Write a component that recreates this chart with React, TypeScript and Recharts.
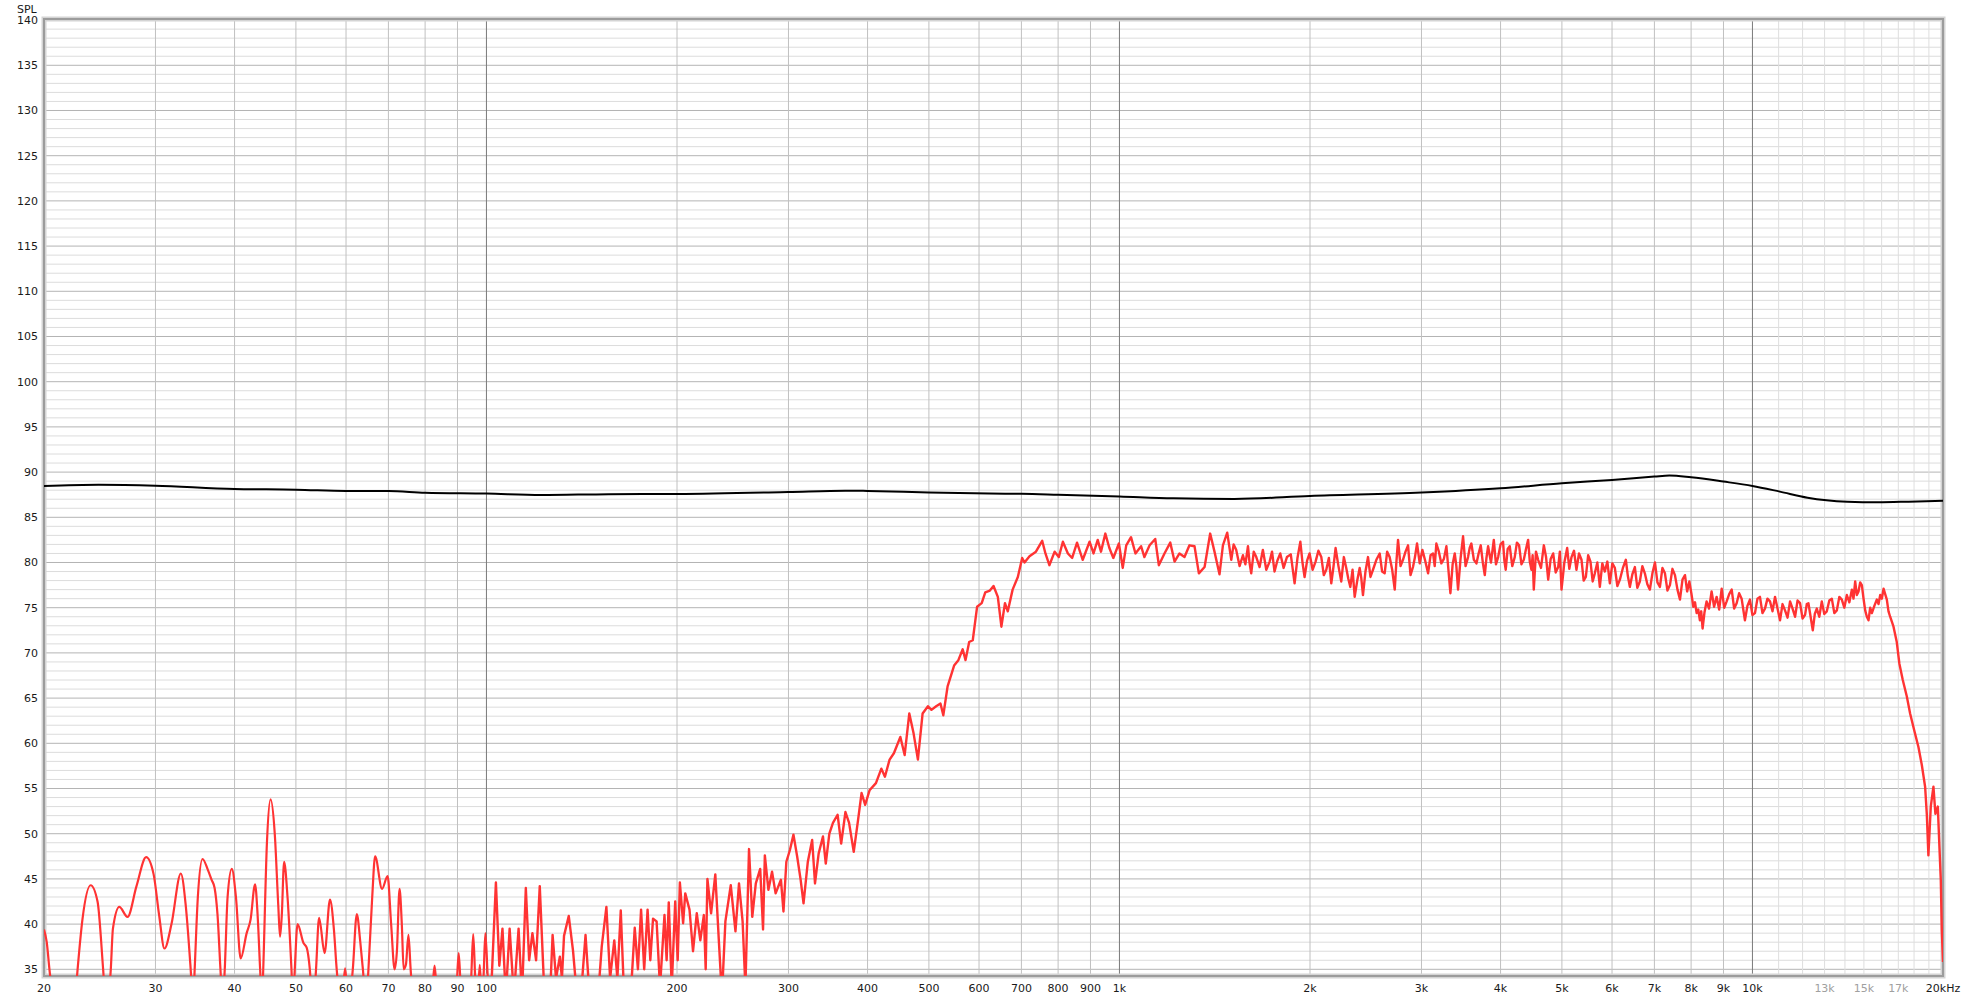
import { CartesianGrid, Line, LineChart, ReferenceArea, XAxis, YAxis } from 'recharts';

// frequency response, SPL in dB vs Hz (log)
const RED_BASS: [number, number][] = [
  [20, 39.4], [20.2, 38.0], [20.4, 35.0], [20.8, 30.0], [21.6, 25.0], [22.3, 30.0], [22.6, 35.0], [23.0, 40.5],
  [23.7, 44.3], [24.3, 42.5], [24.8, 35.0], [25.1, 30.0], [25.5, 35.0], [25.7, 39.5], [26.3, 41.9], [27.1, 40.8],
  [28.0, 44.2], [29.0, 47.4], [29.8, 45.5], [30.4, 41.0], [31.0, 37.3], [31.8, 40.0], [32.9, 45.6], [33.5, 42.0],
  [34.1, 35.0], [34.4, 31.0], [34.6, 35.0], [35.0, 43.0], [35.6, 47.2], [36.3, 46.0], [36.8, 44.9], [37.2, 44.0],
  [37.6, 41.0], [38.0, 35.0], [38.3, 31.0], [38.6, 35.0], [39.0, 43.0], [39.6, 46.1], [40.2, 43.0], [40.9, 36.2],
  [41.8, 39.0], [42.4, 40.5], [43.1, 44.4], [43.5, 41.0], [43.9, 35.0], [44.2, 31.0], [44.4, 35.0], [45.0, 49.0],
  [45.6, 53.8], [46.3, 50.0], [46.9, 42.0], [47.2, 38.6], [47.5, 41.0], [47.9, 46.9], [48.5, 43.0], [49.2, 35.0],
  [49.5, 31.0], [49.8, 35.0], [50.3, 40.0], [51.4, 37.9], [52.0, 37.4], [52.6, 35.0], [53.2, 30.0], [53.8, 35.0],
  [54.4, 40.7], [55.5, 36.8], [56.6, 42.7], [57.4, 39.5], [58.0, 35.0], [59.0, 31.0], [59.8, 35.1], [60.6, 31.0],
  [61.5, 35.0], [62.4, 41.1], [63.2, 38.0], [63.8, 35.0], [64.5, 31.0], [65.1, 35.0], [66.0, 43.0], [66.7, 47.5],
  [68.4, 43.9], [69.8, 45.3], [70.7, 40.0], [71.6, 35.0], [72.2, 37.0], [72.9, 43.9], [73.5, 40.0], [74.0, 35.0],
  [74.6, 35.5], [75.3, 38.8], [75.9, 35.0], [77.0, 30.0], [80.0, 28.0], [82.2, 33.0], [82.8, 35.4], [83.4, 33.0],
  [87.0, 28.0], [89.7, 33.0], [90.4, 36.8], [91.1, 33.0], [93.5, 30.0], [94.6, 34.0], [95.3, 38.9], [96.0, 34.0],
  [96.7, 31.0], [97.6, 35.5], [98.4, 31.0], [99.0, 34.5], [99.6, 39.0], [100.5, 34.0], [101.5, 31.0],
];

const RED_RISE: [number, number][] = [
  [101.5, 31.0], [103.5, 44.6], [104.8, 35.4], [106.0, 39.5], [107.3, 32.0], [108.8, 39.5], [110.5, 32.0],
  [112.4, 39.5], [113.8, 32.0], [115.4, 44.0], [116.8, 36.0], [118.2, 39.0], [119.8, 36.0], [121.4, 44.2],
  [123.5, 32.0], [125.5, 29.0], [127.2, 38.8], [128.8, 34.0], [130.6, 36.4], [131.6, 34.0], [132.6, 38.7],
  [134.9, 40.9], [137.0, 37.1], [139.0, 32.0], [141.0, 32.0], [143.4, 38.8], [145.5, 32.0], [149.0, 29.0],
  [152.1, 37.5], [154.7, 41.9], [156.8, 34.0], [159.2, 38.2], [161.0, 34.0], [163.0, 41.5], [165.0, 32.0],
  [168.0, 29.0], [171.5, 39.6], [173.5, 35.0], [175.5, 41.6], [177.5, 35.0], [179.7, 41.6], [181.5, 36.0],
  [183.3, 40.6], [185.7, 40.3], [188.0, 33.0], [191.1, 41.0], [192.6, 36.0], [194.1, 42.4], [196.2, 33.0],
  [198.7, 42.5], [200.5, 36.0], [202.1, 44.6], [204.5, 40.1], [206.1, 43.4], [209.3, 41.6], [212.0, 37.0],
  [214.9, 41.2], [217.7, 38.2], [220.5, 41.0], [222.0, 35.0], [223.4, 45.0], [226.4, 41.2], [229.9, 45.5],
  [233.0, 37.9], [235.5, 32.0], [238.5, 40.3], [243.2, 44.3], [247.4, 39.2], [250.6, 44.5], [253.9, 40.3],
  [256.5, 33.0], [259.9, 48.3], [263.0, 40.8], [266.4, 44.5], [270.7, 46.1], [273.5, 39.4], [275.3, 47.6],
  [278.9, 43.8], [282.6, 45.8], [286.3, 43.4], [291.9, 44.9], [294.6, 41.4], [297.7, 46.9], [301.6, 48.2],
  [305.5, 49.9], [309.6, 47.5], [313.6, 44.9], [316.9, 42.3], [321.9, 46.9], [327.0, 49.3], [330.4, 44.5],
  [334.8, 47.8], [340.1, 49.7], [343.6, 46.7], [348.1, 50.0], [352.7, 51.2], [358.7, 52.1], [363.4, 48.9],
  [369.1, 52.4], [374.0, 51.2], [380.4, 48.0], [386.4, 51.5], [391.4, 54.5], [396.6, 53.2], [402.9, 54.8],
  [412.4, 55.6], [420.6, 57.2], [426.1, 56.3], [433.4, 58.2], [440.2, 58.9], [450.7, 60.7], [457.8, 58.7],
  [465.6, 63.3], [472.9, 61.1], [480.4, 58.2], [488.7, 63.3], [498.3, 64.1], [504.7, 63.7], [513.4, 64.1],
  [521.5, 64.4], [526.9, 63.1], [535.2, 66.3], [548.0, 68.6], [556.6, 69.2], [565.4, 70.4], [571.3, 69.2],
  [578.9, 71.2], [586.5, 71.4], [595.8, 75.1], [605.9, 75.5], [613.8, 76.7], [624.2, 76.9], [632.5, 77.4],
  [642.5, 76.2], [650.9, 72.9], [659.4, 75.5], [666.2, 74.6], [678, 77.0], [691, 78.4],
];

const RED_MID: [number, number][] = [
  [702, 80.5], [708, 80.0], [721, 80.7], [738, 81.2], [755, 82.4], [764, 81.0], [775, 79.7], [790, 81.2],
  [802, 80.6], [814, 82.3], [829, 81.0], [842, 80.5], [857, 82.2], [875, 80.3], [897, 82.3], [910, 81.0],
  [924, 82.5], [935, 81.2], [950, 83.2], [964, 81.6], [978, 80.5], [998, 82.1], [1012, 79.4], [1025, 81.9],
  [1043, 82.8], [1060, 81.0], [1082, 81.8], [1095, 80.6], [1116, 81.9], [1139, 82.6], [1154, 79.7], [1178, 81.0],
  [1203, 82.2], [1222, 80.1], [1244, 81.0], [1267, 80.6], [1290, 81.9], [1314, 81.8], [1335, 78.8], [1363, 79.5],
  [1391, 83.2], [1413, 81.2], [1439, 78.7], [1457, 81.9], [1480, 83.3], [1502, 80.3], [1515, 82.0], [1529, 81.4],
  [1548, 79.6], [1567, 80.8], [1581, 79.8], [1596, 81.8], [1605, 80.0], [1615, 78.8], [1630, 81.2], [1645, 80.6],
  [1665, 79.5], [1685, 81.4], [1706, 79.2], [1727, 80.1], [1742, 81.2], [1758, 79.0], [1776, 80.2], [1795, 81.0],
  [1817, 79.4], [1839, 80.6], [1865, 80.9], [1891, 77.7], [1911, 80.5], [1931, 82.3], [1946, 80.0], [1961, 78.4],
  [1979, 80.2], [1997, 81.0], [2019, 79.2], [2041, 80.1], [2062, 81.3], [2084, 80.6], [2103, 78.6], [2122, 79.2],
  [2142, 80.5], [2161, 77.7], [2178, 79.5], [2195, 81.6], [2218, 79.6], [2241, 77.9], [2262, 80.6], [2282, 79.4],
  [2299, 78.2], [2316, 77.3], [2335, 79.2], [2353, 76.2], [2375, 78.0], [2396, 79.4], [2410, 78.3], [2425, 76.4],
  [2447, 79.0], [2470, 80.6], [2492, 78.4], [2515, 79.2], [2546, 80.3], [2577, 81.0], [2600, 79.0], [2624, 78.8],
  [2648, 81.2], [2672, 80.6], [2697, 79.2], [2722, 77.0], [2738, 80.0], [2755, 82.5], [2780, 79.6], [2805, 80.3],
  [2831, 81.2], [2857, 81.9], [2883, 78.6], [2909, 79.5], [2930, 80.6], [2952, 82.1], [2981, 79.9], [3010, 81.4],
  [3041, 80.2], [3073, 78.8], [3101, 80.8], [3129, 81.0], [3148, 79.6], [3167, 82.1], [3196, 81.2], [3225, 79.9],
  [3255, 80.4], [3285, 81.8], [3309, 79.2], [3333, 76.6], [3360, 79.8], [3386, 81.0], [3406, 79.6], [3427, 77.0],
  [3458, 80.4], [3490, 82.9], [3522, 79.6], [3554, 80.6], [3575, 81.6], [3597, 82.1], [3630, 80.3], [3664, 79.9],
  [3693, 81.0], [3722, 81.9], [3750, 80.0], [3777, 78.6], [3800, 80.5], [3823, 81.8], [3863, 80.0],
];

const RED_TOP: [number, number][] = [
  [3903, 82.5], [3934, 79.8], [3965, 80.6], [4000, 82.0], [4036, 82.3], [4056, 80.2], [4076, 79.2], [4105, 81.5],
  [4136, 81.8], [4174, 79.6], [4212, 80.6], [4245, 82.2], [4279, 81.9], [4316, 79.8], [4353, 80.3], [4388, 81.5],
  [4422, 82.5], [4449, 80.1], [4476, 79.2], [4495, 80.8], [4514, 77.0], [4550, 81.2], [4586, 80.3], [4634, 79.4],
  [4682, 81.9], [4720, 80.6], [4757, 78.1], [4800, 80.4], [4844, 81.0], [4888, 78.9], [4933, 79.5], [4963, 81.2],
  [4993, 77.0], [5045, 80.0], [5097, 81.6], [5137, 79.3], [5178, 80.6], [5225, 81.3], [5272, 79.2], [5321, 81.0],
  [5370, 80.3], [5412, 78.0], [5455, 78.4], [5501, 80.8], [5548, 80.1], [5592, 77.9], [5636, 78.8], [5688, 80.0],
  [5740, 77.3], [5792, 79.9], [5845, 79.0], [5899, 80.1], [5953, 77.7], [6007, 79.9], [6062, 79.4], [6118, 77.4],
  [6174, 78.1], [6242, 79.4], [6310, 80.3], [6356, 78.5], [6402, 77.3], [6461, 78.7], [6520, 79.5], [6579, 77.2],
  [6639, 77.9], [6700, 79.6], [6761, 78.8], [6823, 77.6], [6886, 77.0], [6950, 78.8], [7014, 80.0], [7078, 77.8],
  [7142, 77.3], [7208, 79.4], [7274, 78.8], [7340, 76.9], [7407, 77.5], [7475, 79.3], [7544, 78.6], [7613, 77.0],
  [7682, 75.9], [7753, 78.1], [7824, 78.6], [7886, 76.8], [7949, 77.9], [8007, 76.6], [8065, 75.1], [8114, 75.6],
  [8163, 74.4], [8211, 74.8], [8260, 73.6], [8300, 74.6], [8341, 72.7], [8400, 74.5], [8463, 75.7], [8540, 74.9],
  [8619, 76.8], [8698, 75.1], [8778, 76.2], [8860, 74.8], [8941, 77.1], [9023, 75.0], [9105, 75.7], [9189, 76.5],
  [9273, 77.0], [9357, 74.9], [9441, 75.5], [9527, 76.6], [9614, 76.0], [9672, 74.8], [9730, 73.6], [9819, 75.2],
  [9908, 75.9], [10000, 74.2], [10092, 74.4], [10184, 76.0], [10277, 76.2], [10371, 74.4], [10466, 74.9],
  [10562, 76.0], [10659, 75.7], [10757, 74.6], [10855, 76.2], [10955, 74.9], [11055, 73.6], [11156, 75.4],
  [11258, 74.7], [11362, 73.9], [11466, 75.7], [11571, 74.9], [11677, 74.0], [11784, 75.8], [11891, 75.5],
  [12000, 73.8], [12110, 74.2], [12184, 75.4], [12258, 75.5], [12356, 74.0], [12454, 72.5], [12545, 74.3],
  [12637, 74.9], [12753, 74.0], [12869, 75.7], [12987, 74.3], [13106, 74.6], [13226, 75.8], [13347, 76.0],
  [13469, 74.4], [13592, 74.7], [13717, 76.2], [13842, 75.9], [13969, 75.0], [14097, 76.4], [14226, 75.6],
  [14356, 77.0], [14443, 76.0], [14531, 77.9], [14619, 76.4], [14708, 76.8], [14798, 77.8], [14888, 77.5],
  [14979, 76.0], [15070, 74.7], [15161, 74.0], [15253, 73.6], [15346, 75.0], [15440, 74.4], [15580, 75.2],
  [15723, 75.9], [15820, 75.4], [15916, 76.4], [16013, 76.0], [16111, 77.1], [16207, 76.5], [16304, 75.9],
  [16403, 74.6], [16503, 74.0], [16705, 72.9], [16904, 71.2], [17066, 68.8], [17278, 67.0], [17531, 65.2],
  [17745, 63.3], [18003, 61.5], [18290, 59.6], [18517, 57.6], [18740, 55.2], [18855, 52.2], [18965, 47.6],
  [19130, 53.0], [19316, 55.2], [19455, 52.2], [19627, 53.0], [19740, 48.6], [19840, 44.9], [19913, 39.3],
  [20000, 35.8],
];

const BLACK: [number, number][] = [
  [20, 88.45], [24.4, 88.6], [30, 88.5], [40, 88.13], [50, 88.06], [60, 87.92], [70, 87.9], [80, 87.72],
  [100, 87.62], [122, 87.47], [156, 87.56], [200, 87.58], [300, 87.8], [369, 87.95], [400, 87.92], [500, 87.75],
  [623, 87.62], [700, 87.6], [800, 87.5], [1000, 87.3], [1216, 87.1], [1519, 87.03], [2000, 87.36], [3000, 87.73],
  [4000, 88.2], [5000, 88.76], [6000, 89.13], [7000, 89.5], [7393, 89.62], [8000, 89.42], [9000, 88.95],
  [10000, 88.47], [11049, 87.84], [12218, 87.17], [14123, 86.73], [15789, 86.66], [17649, 86.73], [20000, 86.84],
];

const X_TICKS = [20, 30, 40, 50, 60, 70, 80, 90, 100, 200, 300, 400, 500, 600, 700, 800, 900,
  1000, 2000, 3000, 4000, 5000, 6000, 7000, 8000, 9000, 10000, 13000, 15000, 17000, 20000];
const X_LABELS = ['20', '30', '40', '50', '60', '70', '80', '90', '100', '200', '300', '400', '500', '600', '700',
  '800', '900', '1k', '2k', '3k', '4k', '5k', '6k', '7k', '8k', '9k', '10k', '13k', '15k', '17k', '20kHz'];
const X_FAINT_LABELS = [13000, 15000, 17000];
const Y_TICKS = [35, 40, 45, 50, 55, 60, 65, 70, 75, 80, 85, 90, 95, 100, 105, 110, 115, 120, 125, 130, 135, 140];

const DECADE_LINES = [100, 1000, 10000];
const OCTAVE_LINES = [30, 40, 50, 60, 70, 80, 90, 200, 300, 400, 500, 600, 700, 800, 900,
  2000, 3000, 4000, 5000, 6000, 7000, 8000, 9000];
const FINE_LINES = [11000, 12000, 13000, 14000, 15000, 16000, 17000, 18000, 19000];

const Y_MIN = 34.26;
const Y_MAX = 140.12;
const MINOR_Y = Array.from({ length: 106 }, (_, i) => 35 + i).filter(v => v % 5 !== 0);

const toRows = (pts: [number, number][]) => pts.map(([f, spl]) => ({ f, spl }));
const bassData = toRows(RED_BASS);
const redData = toRows([...RED_RISE, ...RED_MID, ...RED_TOP]);
const blackData = toRows(BLACK);

const FONT = '"DejaVu Sans", Verdana, sans-serif';
const RED = '#ff3333';

function XTick(props: { x?: number; y?: number; payload?: { value: number } }) {
  const { x = 0, y = 0, payload } = props;
  const v = payload?.value ?? 0;
  const label = X_LABELS[X_TICKS.indexOf(v)];
  return (
    <text x={x} y={y} dy="0.71em" textAnchor="middle" fontSize={11} fontFamily={FONT}
      fill={X_FAINT_LABELS.includes(v) ? '#a0a0a0' : '#1a1a1a'}>
      {label}
    </text>
  );
}

function YTick(props: { x?: number; y?: number; payload?: { value: number } }) {
  const { x = 0, y = 0, payload } = props;
  return (
    <text x={x} y={y} dy="0.36em" textAnchor="end" fontSize={11} fontFamily={FONT} fill="#1a1a1a">
      {payload?.value}
    </text>
  );
}

export default function App() {
  return (
    <div style={{ position: 'absolute', left: 0, top: 0, width: 1965, height: 1000, background: '#fff', fontFamily: FONT }}>
      <div style={{ position: 'absolute', left: 17, top: 3, fontSize: 11, color: '#1a1a1a' }}>SPL</div>
      <LineChart width={1965} height={1000} margin={{ top: 19, right: 22, bottom: 0, left: 0 }}>
        <CartesianGrid vertical={false} horizontalValues={MINOR_Y} stroke="#dcdcdc" strokeWidth={1} />
        <CartesianGrid vertical={false} horizontalValues={Y_TICKS} stroke="#b4b4b4" strokeWidth={1} />
        <CartesianGrid horizontal={false} verticalValues={FINE_LINES} stroke="#dedede" strokeWidth={1} />
        <CartesianGrid horizontal={false} verticalValues={OCTAVE_LINES} stroke="#c0c0c0" strokeWidth={1} />
        <CartesianGrid horizontal={false} verticalValues={DECADE_LINES} stroke="#7a7a7a" strokeWidth={1} />
        <XAxis
          type="number"
          dataKey="f"
          scale="log"
          domain={[20, 20000]}
          allowDataOverflow
          ticks={X_TICKS}
          interval={0}
          tick={<XTick />}
          tickLine={false}
          axisLine={false}
          tickSize={8}
          tickMargin={0}
          height={24}
        />
        <YAxis
          type="number"
          domain={[Y_MIN, Y_MAX]}
          allowDataOverflow
          ticks={Y_TICKS}
          interval={0}
          tick={<YTick />}
          tickLine={false}
          axisLine={false}
          tickSize={4}
          tickMargin={2}
          width={44}
        />
        <Line
          data={blackData}
          dataKey="spl"
          type="monotone"
          stroke="#000"
          strokeWidth={2}
          dot={false}
          isAnimationActive={false}
        />
        <Line
          data={bassData}
          dataKey="spl"
          type="monotone"
          stroke={RED}
          strokeWidth={2.2}
          dot={false}
          isAnimationActive={false}
        />
        <Line
          data={redData}
          dataKey="spl"
          type="linear"
          stroke={RED}
          strokeWidth={2.4}
          strokeLinejoin="round"
          dot={false}
          isAnimationActive={false}
        />
        <ReferenceArea x1={20} x2={20000} y1={Y_MIN} y2={Y_MAX} fill="none" stroke="#d4d4d4" strokeWidth={5} ifOverflow="visible" />
        <ReferenceArea x1={20} x2={20000} y1={Y_MIN} y2={Y_MAX} fill="none" stroke="#9c9c9c" strokeWidth={2} ifOverflow="visible" />
      </LineChart>
    </div>
  );
}
